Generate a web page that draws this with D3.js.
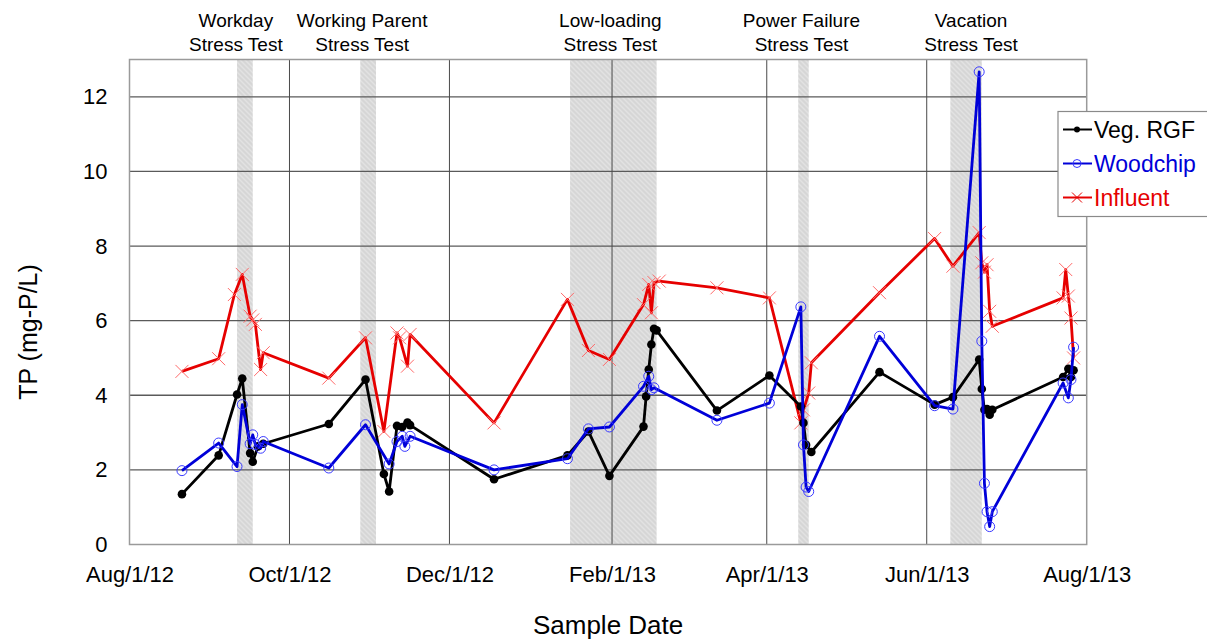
<!DOCTYPE html>
<html>
<head>
<meta charset="utf-8">
<script src="https://cdn.jsdelivr.net/npm/d3@7"></script>
<style>
  body { margin: 0; background: #fff; }
  svg { font-family: "Liberation Sans", Arial, sans-serif; }
</style>
</head>
<body>
<div id="chart"></div>
<script>
// sample dates and TP (mg-P/L) per series
var vegDates = ["2012-08-21","2012-09-04","2012-09-11","2012-09-13","2012-09-16","2012-09-17","2012-09-19","2012-09-21",
  "2012-10-16","2012-10-30","2012-11-06","2012-11-08","2012-11-11","2012-11-13","2012-11-15","2012-11-16",
  "2012-12-18","2013-01-15","2013-01-23","2013-01-31","2013-02-13","2013-02-14","2013-02-15","2013-02-16","2013-02-17","2013-02-18",
  "2013-03-13","2013-04-02","2013-04-14","2013-04-15","2013-04-16","2013-04-18","2013-05-14","2013-06-04","2013-06-11",
  "2013-06-21","2013-06-22","2013-06-23","2013-06-24","2013-06-25","2013-06-26","2013-07-23","2013-07-25","2013-07-26","2013-07-27"];
var vegTP = [1.35,2.39,4.02,4.45,2.45,2.22,2.63,2.70,
  3.23,4.42,1.89,1.42,3.18,3.15,3.27,3.20,
  1.75,2.39,3.03,1.84,3.16,3.97,4.69,5.36,5.78,5.74,
  3.59,4.53,3.70,3.26,2.67,2.48,4.62,3.75,3.95,
  4.96,4.17,3.61,3.63,3.48,3.61,4.49,4.71,4.49,4.67];

var woodDates = ["2012-08-21","2012-09-04","2012-09-11","2012-09-13","2012-09-16","2012-09-17","2012-09-18","2012-09-20","2012-09-21",
  "2012-10-16","2012-10-30","2012-11-08","2012-11-11","2012-11-13","2012-11-14","2012-11-16",
  "2012-12-18","2013-01-15","2013-01-23","2013-01-31","2013-02-13","2013-02-15","2013-02-16","2013-02-17",
  "2013-03-13","2013-04-02","2013-04-14","2013-04-15","2013-04-16","2013-04-17","2013-05-14","2013-06-04","2013-06-11",
  "2013-06-21","2013-06-22","2013-06-23","2013-06-24","2013-06-25","2013-06-26","2013-07-23","2013-07-25","2013-07-26","2013-07-27"];
var woodTP = [1.98,2.72,2.09,3.75,2.70,2.94,2.68,2.58,2.76,
  2.05,3.21,2.16,2.76,2.90,2.63,2.90,
  2.00,2.30,3.10,3.15,4.24,4.51,4.15,4.20,
  3.33,3.79,6.37,2.67,1.54,1.42,5.58,3.72,3.63,
  12.67,5.45,1.64,0.88,0.48,0.88,4.33,3.93,4.42,5.29];

var inflDates = ["2012-08-21","2012-09-04","2012-09-10","2012-09-13","2012-09-16","2012-09-17","2012-09-18","2012-09-20","2012-09-21",
  "2012-10-16","2012-10-30","2012-11-06","2012-11-11","2012-11-12","2012-11-15","2012-11-16",
  "2012-12-18","2013-01-15","2013-01-23","2013-01-31","2013-02-13","2013-02-15","2013-02-16","2013-02-17","2013-02-19",
  "2013-03-13","2013-04-02","2013-04-14","2013-04-15","2013-04-17","2013-04-18","2013-05-14","2013-06-04","2013-06-11",
  "2013-06-21","2013-06-22","2013-06-23","2013-06-24","2013-06-25","2013-06-26","2013-07-23","2013-07-24","2013-07-25","2013-07-26","2013-07-27"];
var inflTP = [4.64,4.98,6.70,7.24,6.12,6.02,5.90,4.69,5.14,
  4.46,5.54,3.03,5.67,5.54,4.78,5.63,
  3.26,6.57,5.20,4.96,6.43,6.97,6.21,7.02,7.06,
  6.88,6.61,3.26,3.61,4.06,4.87,6.75,8.20,7.46,
  8.36,7.55,7.30,7.50,6.25,5.85,6.61,7.37,6.66,6.07,5.00];

// stress test periods
var testNames = [["Workday","Stress Test"],["Working Parent","Stress Test"],["Low-loading","Stress Test"],["Power Failure","Stress Test"],["Vacation","Stress Test"]];
var testStart = ["2012-09-11","2012-10-28","2013-01-16","2013-04-13","2013-06-10"];
var testEnd   = ["2012-09-17","2012-11-03","2013-02-18","2013-04-17","2013-06-22"];

var xTicks = ["2012-08-01","2012-10-01","2012-12-01","2013-02-01","2013-04-01","2013-06-01","2013-08-01"];
var yTicks = [0,2,4,6,8,10,12];

var parse = d3.timeParse("%Y-%m-%d");

var margin = {top: 59.5, left: 129.5},
    width = 957.2,
    height = 485;

var svg = d3.select("#chart").append("svg")
    .attr("width", 1207)
    .attr("height", 639);

var defs = svg.append("defs");
var pat = defs.append("pattern")
    .attr("id", "hatch")
    .attr("patternUnits", "userSpaceOnUse")
    .attr("width", 5).attr("height", 5);
pat.append("rect").attr("width", 5).attr("height", 5).attr("fill", "#d6d6d6");
pat.append("path")
    .attr("d", "M0,0L5,5M-1,4L1,6M4,-1L6,1")
    .attr("stroke", "#eeeeee").attr("stroke-width", 1);

var g = svg.append("g")
    .attr("transform", "translate(" + margin.left + "," + margin.top + ")");

var x = d3.scaleTime()
    .domain([parse(xTicks[0]), parse(xTicks[xTicks.length - 1])])
    .range([0, width]);
var y = d3.scaleLinear().domain([0, 13]).range([height, 0]);

// shaded stress test bands
g.selectAll(".band")
    .data(testStart)
  .enter().append("rect")
    .attr("class", "band")
    .attr("x", function(d) { return x(parse(d)); })
    .attr("width", function(d, i) { return x(parse(testEnd[i])) - x(parse(d)); })
    .attr("y", 0)
    .attr("height", height)
    .attr("fill", "url(#hatch)");

// grid lines
g.selectAll(".hgrid")
    .data(yTicks.slice(1))
  .enter().append("line")
    .attr("x1", 0).attr("x2", width)
    .attr("y1", function(d) { return y(d); })
    .attr("y2", function(d) { return y(d); })
    .attr("stroke", "#5a5a5a").attr("stroke-width", 1.3);

g.selectAll(".vgrid")
    .data(xTicks.slice(1, -1))
  .enter().append("line")
    .attr("y1", 0).attr("y2", height)
    .attr("x1", function(d) { return x(parse(d)); })
    .attr("x2", function(d) { return x(parse(d)); })
    .attr("stroke", "#4a4a4a").attr("stroke-width", 1);

g.append("rect")
    .attr("width", width).attr("height", height)
    .attr("fill", "none")
    .attr("stroke", "#9a9a9a").attr("stroke-width", 1.5);

// axes (labels only)
var xAxis = g.append("g")
    .attr("transform", "translate(0," + height + ")")
    .call(d3.axisBottom(x)
      .tickValues(xTicks.map(parse))
      .tickFormat(d3.timeFormat("%b/%-d/%y"))
      .tickSize(0).tickPadding(22));
var yAxis = g.append("g")
    .call(d3.axisLeft(y).tickValues(yTicks).tickSize(0).tickPadding(22));
[xAxis, yAxis].forEach(function(a) {
  a.select(".domain").remove();
  a.selectAll("text").attr("font-size", 22).attr("fill", "#000")
    .attr("font-family", "'Liberation Sans', Arial, sans-serif");
});

// series
var series = [
  {name: "Veg. RGF", dates: vegDates, vals: vegTP, color: "#000000", mark: "dot"},
  {name: "Woodchip", dates: woodDates, vals: woodTP, color: "#0000d8", mark: "ring"},
  {name: "Influent", dates: inflDates, vals: inflTP, color: "#e60000", mark: "cross"}
];

var line = d3.line()
    .x(function(d) { return x(d[0]); })
    .y(function(d) { return y(d[1]); });

function drawMark(sel, s, small) {
  if (s.mark == "dot") {
    sel.append("circle").attr("r", small ? 3 : 4.3).attr("fill", s.color);
  } else if (s.mark == "ring") {
    sel.append("circle").attr("r", small ? 4 : 5)
      .attr("fill", "none").attr("stroke", "#3a3aff").attr("stroke-width", 1);
  } else {
    var k = small ? 5 : 6.5;
    sel.append("path")
      .attr("d", "M" + (-k) + "," + (-k) + "L" + k + "," + k + "M" + (-k) + "," + k + "L" + k + "," + (-k))
      .attr("stroke", small ? s.color : "#ff6a6a").attr("stroke-width", 1);
  }
}

[series[2], series[0], series[1]].forEach(function(s) {
  var pts = s.dates.map(function(d, i) { return [parse(d), s.vals[i]]; });
  g.append("path")
    .datum(pts)
    .attr("d", line)
    .attr("fill", "none")
    .attr("stroke", s.color)
    .attr("stroke-width", 2.8)
    .attr("stroke-linejoin", "round");
  g.selectAll(null)
    .data(pts)
  .enter().append("g")
    .attr("transform", function(d) { return "translate(" + x(d[0]) + "," + y(d[1]) + ")"; })
    .each(function() { drawMark(d3.select(this), s, false); });
});

// stress test titles
var labelDx = [-9, -6, -3, -2, 5];
testNames.forEach(function(t, i) {
  var cx = (x(parse(testStart[i])) + x(parse(testEnd[i]))) / 2 + margin.left + labelDx[i];
  svg.append("text")
    .attr("x", cx).attr("y", 27)
    .attr("text-anchor", "middle").attr("font-size", 19)
    .text(t[0]);
  svg.append("text")
    .attr("x", cx).attr("y", 51)
    .attr("text-anchor", "middle").attr("font-size", 19)
    .text(t[1]);
});

// axis titles
svg.append("text")
  .attr("x", margin.left + width / 2).attr("y", 634)
  .attr("text-anchor", "middle").attr("font-size", 26)
  .text("Sample Date");
svg.append("text")
  .attr("transform", "translate(37," + (margin.top + height / 2 + 30) + ") rotate(-90)")
  .attr("text-anchor", "middle").attr("font-size", 25)
  .text("TP (mg-P/L)");

// legend
var legend = svg.append("g").attr("transform", "translate(1058,111.5)");
legend.append("rect")
  .attr("width", 160).attr("height", 105)
  .attr("fill", "#fff").attr("stroke", "#8a8a8a").attr("stroke-width", 1.2);
series.forEach(function(s, i) {
  var row = legend.append("g").attr("transform", "translate(0," + (18 + i * 34) + ")");
  row.append("line").attr("x1", 5).attr("x2", 34)
    .attr("stroke", s.color).attr("stroke-width", 2);
  drawMark(row.append("g").attr("transform", "translate(19,0)"), s, true);
  row.append("text").attr("x", 36).attr("dy", "0.35em")
    .attr("font-size", 23).attr("fill", s.color)
    .text(s.name);
});
</script>
</body>
</html>
